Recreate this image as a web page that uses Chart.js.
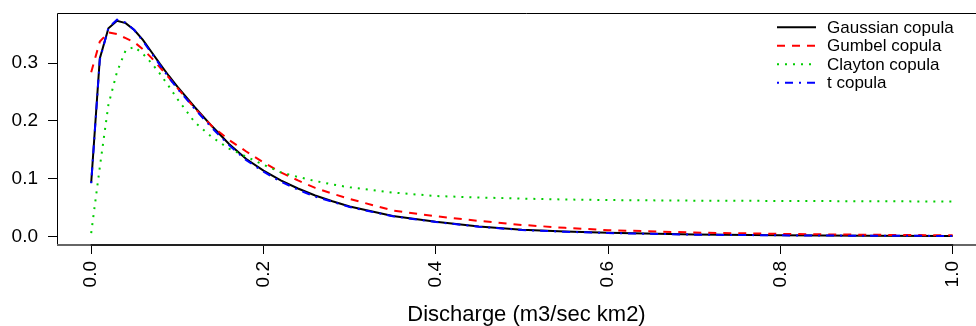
<!DOCTYPE html>
<html>
<head>
<meta charset="utf-8">
<script src="https://cdn.jsdelivr.net/npm/chart.js@4.4.1/dist/chart.umd.min.js"></script>
<style>
  html, body { margin: 0; padding: 0; background: #fff; overflow: hidden; }
  #wrap { width: 996px; height: 326px; }
</style>
</head>
<body>
<div id="wrap"><canvas id="densityChart" width="996" height="326"></canvas></div>
<script>
const discharge = [0, 0.01, 0.02, 0.03, 0.04, 0.05, 0.06, 0.07, 0.08, 0.09, 0.10,
  0.12, 0.14, 0.16, 0.18, 0.20, 0.22, 0.24, 0.26, 0.28, 0.30,
  0.35, 0.40, 0.45, 0.50, 0.55, 0.60, 0.70, 0.80, 0.90, 1.00];

const gaussianCopula = [0.093, 0.308, 0.360, 0.373, 0.369, 0.357, 0.340, 0.319, 0.298, 0.278, 0.259,
  0.224, 0.191, 0.160, 0.134, 0.114, 0.097, 0.083, 0.071, 0.061, 0.052,
  0.0355, 0.0254, 0.0175, 0.0115, 0.0085, 0.0065, 0.0035, 0.0022, 0.0015, 0.001];

const gumbelCopula = [0.284, 0.337, 0.353, 0.350, 0.343, 0.336, 0.324, 0.309, 0.292, 0.275, 0.257,
  0.222, 0.191, 0.167, 0.147, 0.128, 0.111, 0.097, 0.084, 0.074, 0.065,
  0.045, 0.035, 0.027, 0.020, 0.015, 0.011, 0.0068, 0.0045, 0.003, 0.002];

const claytonCopula = [0.006, 0.120, 0.228, 0.285, 0.322, 0.328, 0.316, 0.300, 0.281, 0.260, 0.238,
  0.198, 0.172, 0.152, 0.138, 0.124, 0.111, 0.103, 0.096, 0.090, 0.085,
  0.076, 0.070, 0.0675, 0.0655, 0.064, 0.063, 0.062, 0.0615, 0.061, 0.0605];

const tCopula = [0.092, 0.306, 0.361, 0.375, 0.370, 0.357, 0.338, 0.317, 0.296, 0.275, 0.256,
  0.221, 0.188, 0.158, 0.132, 0.112, 0.095, 0.081, 0.069, 0.060, 0.051,
  0.035, 0.025, 0.017, 0.0112, 0.0082, 0.006, 0.0032, 0.002, 0.0013, 0.001];

const xTicks = [0, 0.2, 0.4, 0.6, 0.8, 1.0];
const yTicks = [0, 0.1, 0.2, 0.3];

const FONT = 'Liberation Sans, Arial, Helvetica, sans-serif';

function points(values) {
  return discharge.map((x, i) => ({ x: x, y: values[i] }));
}

function series(label, values, color, dash, order) {
  return {
    label: label,
    data: points(values),
    borderColor: color,
    borderWidth: 2,
    borderDash: dash,
    borderCapStyle: 'butt',
    pointRadius: 0,
    tension: 0,
    fill: false,
    order: order
  };
}

// R style box, axis line and legend in the top right corner
const rFrame = {
  id: 'rFrame',
  afterDraw(chart) {
    const { ctx, chartArea: a, scales } = chart;
    ctx.save();
    ctx.setLineDash([]);
    ctx.strokeStyle = '#000';
    ctx.lineWidth = 1;
    ctx.beginPath();
    ctx.moveTo(a.left + 0.5, a.bottom);
    ctx.lineTo(a.left + 0.5, a.top + 0.5);
    ctx.lineTo(a.right, a.top + 0.5);
    ctx.stroke();

    ctx.strokeStyle = '#666';
    ctx.lineWidth = 2;
    ctx.beginPath();
    ctx.moveTo(a.left, a.bottom);
    ctx.lineTo(a.right, a.bottom);
    ctx.stroke();
    ctx.strokeStyle = '#222';
    ctx.beginPath();
    ctx.moveTo(scales.x.getPixelForValue(xTicks[0]) - 0.5, a.bottom);
    ctx.lineTo(scales.x.getPixelForValue(xTicks[xTicks.length - 1]) + 0.5, a.bottom);
    ctx.stroke();

    ctx.font = '17px ' + FONT;
    ctx.textBaseline = 'middle';
    ctx.textAlign = 'left';
    chart.data.datasets.forEach((ds, i) => {
      const y = 27.3 + i * 18.5;
      ctx.strokeStyle = ds.borderColor;
      ctx.lineWidth = 2;
      ctx.lineCap = 'butt';
      ctx.setLineDash(ds.borderDash || []);
      ctx.beginPath();
      ctx.moveTo(777, y);
      ctx.lineTo(816, y);
      ctx.stroke();
      ctx.setLineDash([]);
      ctx.fillStyle = '#000';
      ctx.fillText(ds.label, 827, y + 0.8);
    });
    ctx.restore();
  }
};

const ctx = document.getElementById('densityChart').getContext('2d');
new Chart(ctx, {
  type: 'line',
  data: {
    datasets: [
      series('Gaussian copula', gaussianCopula, '#000000', [], 3),
      series('Gumbel copula', gumbelCopula, '#ff0000', [8, 7], 2),
      series('Clayton copula', claytonCopula, '#00cd00', [2, 6], 1),
      series('t copula', tCopula, '#0000ff', [2, 6, 8, 6], 0)
    ]
  },
  options: {
    responsive: false,
    animation: false,
    devicePixelRatio: 1,
    layout: { padding: { top: 13, right: 0, bottom: 0, left: 0 } },
    plugins: { legend: { display: false }, tooltip: { enabled: false } },
    scales: {
      x: {
        type: 'linear',
        min: -0.0397,
        max: 1.0503,
        afterBuildTicks: s => { s.ticks = xTicks.map(v => ({ value: v })); },
        afterFit: s => { s.height = 81; s.paddingLeft = 0; s.paddingRight = 0; },
        border: { display: false },
        grid: { drawOnChartArea: false, drawTicks: true, tickLength: 9, color: '#000', lineWidth: 1 },
        ticks: {
          autoSkip: false,
          minRotation: 90,
          maxRotation: 90,
          padding: 7,
          color: '#000',
          font: { family: FONT, size: 19 },
          callback: v => v.toFixed(1)
        },
        title: {
          display: true,
          text: 'Discharge (m3/sec km2)',
          color: '#000',
          font: { family: FONT, size: 22, lineHeight: 1 },
          padding: 0
        }
      },
      y: {
        min: -0.0147,
        max: 0.3865,
        afterBuildTicks: s => { s.ticks = yTicks.map(v => ({ value: v })); },
        afterFit: s => { s.width = 57; s.paddingTop = 0; s.paddingBottom = 0; },
        border: { display: false },
        grid: { drawOnChartArea: false, drawTicks: true, tickLength: 9, color: '#000', lineWidth: 1 },
        ticks: {
          autoSkip: false,
          padding: 10,
          color: '#000',
          font: { family: FONT, size: 19 },
          callback: v => v.toFixed(1)
        }
      }
    }
  },
  plugins: [rFrame]
});
</script>
</body>
</html>
